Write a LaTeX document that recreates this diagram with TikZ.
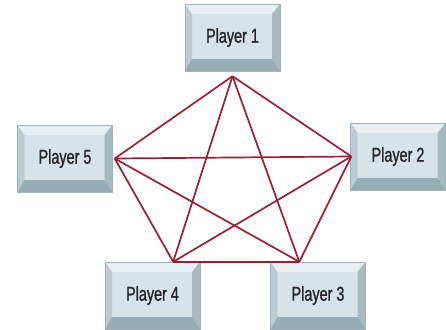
\documentclass[tikz,border=0pt]{standalone}
\usepackage{fontspec}
\newfontfamily\keyfont[FakeStretch=0.72,FakeBold=1.2]{Liberation Sans}
\usepackage{xcolor}
\usepackage{tikz}
\usetikzlibrary{calc}

\definecolor{keyface}{RGB}{214,227,233}
\definecolor{keytop}{RGB}{232,240,243}
\definecolor{keyside}{RGB}{187,205,212}
\definecolor{keylow}{RGB}{150,173,182}
\definecolor{keyedge}{RGB}{160,178,186}
\definecolor{linkred}{RGB}{150,32,52}

\tikzset{
  key/.style={minimum width=95pt, minimum height=67pt, inner sep=0pt,
    fill=keyface, draw=keyedge, line width=0.4pt,
    font=\keyfont\fontsize{20}{20}\selectfont, text=black!85,
    path picture={
      \coordinate (nw) at (path picture bounding box.north west);
      \coordinate (ne) at (path picture bounding box.north east);
      \coordinate (sw) at (path picture bounding box.south west);
      \coordinate (se) at (path picture bounding box.south east);
      \fill[keytop] (nw) -- (ne) -- ([shift={(-8pt,-10pt)}]ne) -- ([shift={(7pt,-10pt)}]nw) -- cycle;
      \fill[keyside] (nw) -- ([shift={(7pt,-10pt)}]nw) -- ([shift={(7pt,12pt)}]sw) -- (sw) -- cycle;
      \fill[keyside!90!black] (ne) -- ([shift={(-8pt,-10pt)}]ne) -- ([shift={(-8pt,12pt)}]se) -- (se) -- cycle;
      \fill[keylow] (sw) -- ([shift={(7pt,12pt)}]sw) -- ([shift={(-8pt,12pt)}]se) -- (se) -- cycle;
    }},
  link/.style={draw=linkred, line width=1.7pt}
}

\begin{document}
\begin{tikzpicture}[x=1pt, y=-1pt]
\useasboundingbox (0,0) rectangle (446,329);

% players
\node[key] (p1) at (232.5,37.5) {Player 1};
\node[key] (p2) at (398,156.5) {Player 2};
\node[key] (p3) at (318,295.5) {Player 3};
\node[key] (p4) at (152.5,295.5) {Player 4};
\node[key] (p5) at (65,158.5) {Player 5};

% corners of the pentagon
\coordinate (v1) at ([yshift=-5pt]p1.south);
\coordinate (v2) at ([xshift=1pt]p2.west);
\coordinate (v3) at ([xshift=29pt]p3.north west);
\coordinate (v4) at ([xshift=-27pt]p4.north east);
\coordinate (v5) at ([xshift=2pt]p5.east);

\foreach \a/\b in {v1/v2,v1/v3,v1/v4,v1/v5,v2/v3,v2/v4,v2/v5,v3/v4,v3/v5,v4/v5}{
  \draw[link] (\a) -- (\b);
}
\end{tikzpicture}
\end{document}
